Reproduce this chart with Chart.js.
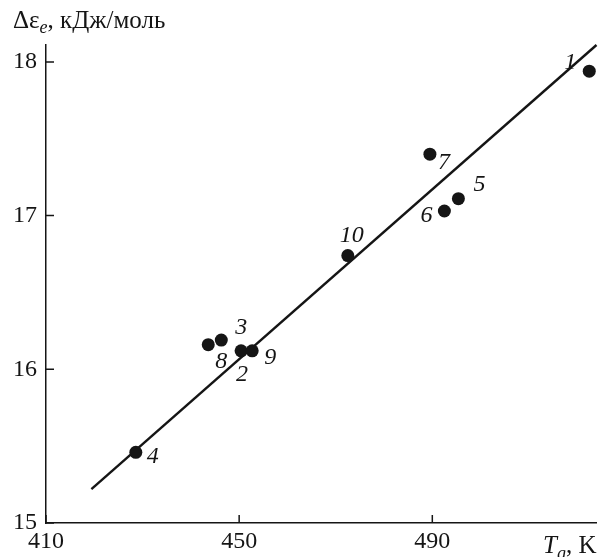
<!DOCTYPE html>
<html>
<head>
<meta charset="utf-8">
<script src="https://cdn.jsdelivr.net/npm/chart.js@4.4.1/dist/chart.umd.min.js"></script>
<style>
  html, body { margin: 0; padding: 0; background: #fff; }
  #wrap { width: 603px; height: 557px; }
</style>
</head>
<body>
<div id="wrap"><canvas id="chart" width="603" height="557"></canvas></div>
<script>
// Data
const sampleIds = ["1", "2", "3", "4", "5", "6", "7", "8", "9", "10"];
const tgValues = [522.5, 450.4, 446.3, 428.6, 495.4, 492.5, 489.5, 443.6, 452.7, 472.5];
const epsValues = [17.94, 16.12, 16.19, 15.46, 17.11, 17.03, 17.40, 16.16, 16.12, 16.74];
// regression line ends
const fitTg = [419.4, 524];
const fitEps = [15.22, 18.11];
// axis ticks
const xTicks = [410, 450, 490];
const yTicks = [15, 16, 17, 18];

// label offsets in px, relative to each point (same order as sampleIds)
const labelOffsets = [[-19, -8], [1, 24], [20, -12], [17, 4], [21, -14], [-18, 5], [14, 9], [13, 17], [18, 7], [4, -20]];

const ink = "#151515";
const serif = "'Liberation Serif', 'DejaVu Serif', serif";

// Point numbers next to the markers
const pointLabels = {
    id: "pointLabels",
    afterDatasetsDraw(chart) {
        const ctx = chart.ctx;
        const meta = chart.getDatasetMeta(1);
        ctx.save();
        ctx.fillStyle = ink;
        ctx.font = "italic 24px " + serif;
        ctx.textAlign = "center";
        ctx.textBaseline = "middle";
        meta.data.forEach((pt, i) => {
            const off = labelOffsets[i];
            ctx.fillText(sampleIds[i], pt.x + off[0], pt.y + off[1]);
        });
        ctx.restore();
    }
};

// Inward tick marks and axis titles
const axisExtras = {
    id: "axisExtras",
    afterDraw(chart) {
        const ctx = chart.ctx;
        const xs = chart.scales.x;
        const ys = chart.scales.y;
        const area = chart.chartArea;
        ctx.save();
        ctx.strokeStyle = ink;
        ctx.lineWidth = 1.5;
        ctx.beginPath();
        xTicks.forEach(v => {
            const px = xs.getPixelForValue(v);
            ctx.moveTo(px, area.bottom);
            ctx.lineTo(px, area.bottom - 8);
        });
        yTicks.forEach(v => {
            const py = ys.getPixelForValue(v);
            ctx.moveTo(area.left, py);
            ctx.lineTo(area.left + 8, py);
        });
        ctx.stroke();

        // y title: Δε_e, кДж/моль
        ctx.fillStyle = ink;
        ctx.textBaseline = "alphabetic";
        ctx.textAlign = "left";
        let x = 13;
        ctx.font = "25px " + serif;
        ctx.fillText("Δε", x, 28);
        x += ctx.measureText("Δε").width;
        ctx.font = "italic 18px " + serif;
        ctx.fillText("e", x, 33);
        x += ctx.measureText("e").width;
        ctx.font = "25px " + serif;
        ctx.fillText(", кДж/моль", x, 28);

        // x title: T_g, K
        x = 543;
        ctx.font = "italic 25px " + serif;
        ctx.fillText("T", x, 553);
        x += ctx.measureText("T").width;
        ctx.font = "italic 18px " + serif;
        ctx.fillText("g", x, 559);
        x += ctx.measureText("g").width;
        ctx.font = "25px " + serif;
        ctx.fillText(", K", x, 553);
        ctx.restore();
    }
};

new Chart(document.getElementById("chart"), {
    data: {
        datasets: [
            {
                type: "line",
                data: fitTg.map((t, i) => ({ x: t, y: fitEps[i] })),
                borderColor: ink,
                borderWidth: 2.4,
                pointRadius: 0,
                fill: false,
                clip: false
            },
            {
                type: "scatter",
                data: tgValues.map((t, i) => ({ x: t, y: epsValues[i] })),
                backgroundColor: ink,
                borderColor: ink,
                pointRadius: 6.5,
                borderWidth: 0,
                clip: false
            }
        ]
    },
    options: {
        responsive: false,
        animation: false,
        layout: { padding: { top: 45, right: 2, left: 0, bottom: 0 } },
        plugins: {
            legend: { display: false },
            tooltip: { enabled: false }
        },
        scales: {
            x: {
                type: "linear",
                position: "bottom",
                min: 410,
                max: 524,
                grid: { display: false, drawTicks: false },
                border: { display: true, color: ink, width: 1.5 },
                afterBuildTicks: scale => { scale.ticks = xTicks.map(v => ({ value: v })); },
                afterFit: scale => { scale.height = 34; },
                ticks: {
                    padding: 4,
                    color: ink,
                    font: { family: serif, size: 24 },
                    maxRotation: 0
                }
            },
            y: {
                type: "linear",
                min: 15,
                max: 18.11,
                grid: { display: false, drawTicks: false },
                border: { display: true, color: ink, width: 1.5 },
                afterBuildTicks: scale => { scale.ticks = yTicks.map(v => ({ value: v })); },
                afterFit: scale => { scale.width = 46; },
                ticks: {
                    padding: 9,
                    color: ink,
                    font: { family: serif, size: 24 }
                }
            }
        }
    },
    plugins: [pointLabels, axisExtras]
});
</script>
</body>
</html>
